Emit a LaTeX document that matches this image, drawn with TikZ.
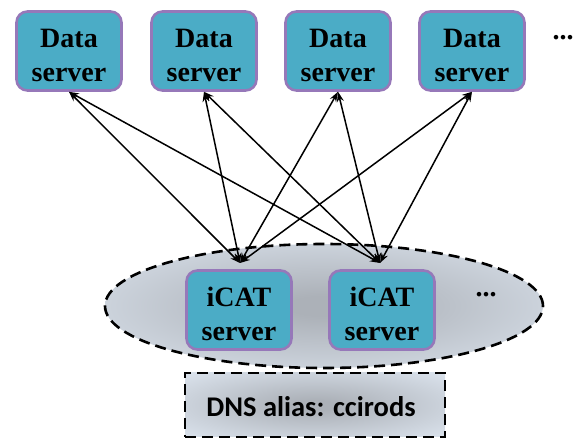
\documentclass[tikz,border=0pt]{standalone}
\usepackage{fontspec}
\setmainfont{Liberation Serif}
\newfontfamily\labelsans{Carlito}
\usetikzlibrary{arrows.meta,shapes.geometric}
\definecolor{boxfill}{RGB}{75,172,198}
\definecolor{boxedge}{RGB}{150,120,185}
\definecolor{ovalin}{RGB}{172,177,184}
\definecolor{ovalout}{RGB}{220,228,238}
\pgfdeclareradialshading{ovalglow}{\pgfpoint{0bp}{0bp}}{%
  color(0bp)=(ovalin); color(4bp)=(ovalin); color(36bp)=(ovalout); color(100bp)=(ovalout)}
\newcommand{\toplift}{\rule{0pt}{28pt}}
\tikzset{
  server/.style={draw=boxedge, line width=2.6pt, fill=boxfill, rounded corners=11pt,
    minimum width=105pt, minimum height=79pt, align=center, inner sep=0pt,
    font=\fontsize{28}{34}\selectfont\bfseries},
  dotsnode/.style={inner sep=0pt, font=\fontsize{28}{28}\selectfont\bfseries},
  dashedge/.style={draw=black, line width=2.6pt, dash pattern=on 11pt off 6pt},
  link/.style={line width=1.5pt, {Stealth[length=10pt,width=7pt]}-{Stealth[length=10pt,width=7pt]}}
}
\begin{document}
\begin{tikzpicture}[x=1pt,y=-1pt]
\useasboundingbox (0,0) rectangle (574,438);
% DNS alias box
\node[dashedge, shading=ovalglow, rectangle, minimum width=260pt, minimum height=64pt,
      inner sep=0pt] (dns) at (315,405) {};
\node[inner sep=0pt, font=\labelsans\fontsize{28.5}{30}\selectfont\bfseries] (dnstext) at (311,407) {DNS alias: ccirods};
% iCAT cluster oval
\node[dashedge, shading=ovalglow, ellipse, minimum width=438pt, minimum height=124pt,
      inner sep=0pt] (cluster) at (324,306) {};
% data servers
\node[server] (d1) at (69,51) {\toplift Data\\server};
\node[server] (d2) at (204,51) {\toplift Data\\server};
\node[server] (d3) at (338,51) {\toplift Data\\server};
\node[server] (d4) at (472,51) {\toplift Data\\server};
\node[dotsnode] (dtop) at (563,38) {...};
% iCAT servers
\node[server] (i1) at (239,310) {\toplift iCAT\\server};
\node[server] (i2) at (382,310) {\toplift iCAT\\server};
\node[dotsnode] (dmid) at (486,295) {...};
% hubs just above the iCAT servers
\coordinate (h1) at (240,263);
\coordinate (h2) at (380,263);
% links between iCAT and data servers
\foreach \h in {h1,h2}{
  \foreach \d in {d1,d2,d3,d4}{
    \draw[link] (\h) -- (\d.south);
  }
}
\end{tikzpicture}
\end{document}
